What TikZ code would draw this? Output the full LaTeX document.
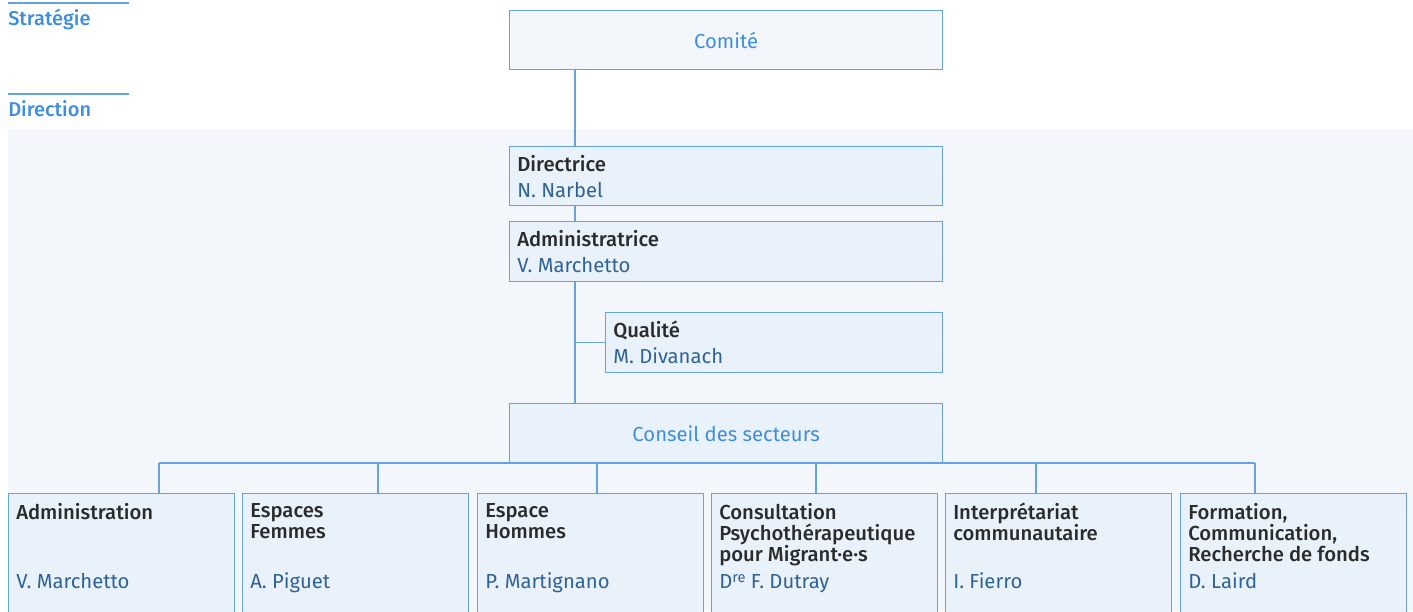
\documentclass[tikz,border=0pt]{standalone}
\usepackage{fontspec}
\setmainfont{Fira Sans}[BoldFont={* Medium}]
\definecolor{lineblue}{RGB}{100,162,232}
\definecolor{headblue}{RGB}{62,142,222}
\definecolor{nameblue}{RGB}{47,98,150}
\definecolor{titlegray}{RGB}{43,43,43}
\definecolor{panelfill}{RGB}{243,247,252}
\definecolor{boxfill}{RGB}{233,241,251}

\begin{document}
\begin{tikzpicture}[x=0.75pt,y=0.75pt,yscale=-1,xscale=1,
  orgbox/.style={draw=lineblue,line width=0.9pt,fill=boxfill,anchor=north west,inner sep=0pt},
  conn/.style={draw=lineblue,line width=0.9pt},
  roletext/.style={anchor=base west,inner sep=0pt,text=titlegray,font=\fontsize{15.2}{15.75}\selectfont\bfseries},
  sectortext/.style={roletext,anchor=north west,align=left},
  persontext/.style={anchor=base west,inner sep=0pt,text=nameblue,font=\fontsize{15.2}{15.75}\selectfont},
  lvltext/.style={anchor=base west,inner sep=0pt,text=headblue,font=\fontsize{15}{15}\selectfont\bfseries}]
\clip (0,0) rectangle (1413,611);

% Background panel
\fill[panelfill] (8,129) rectangle (1413,611);

% Level labels
\draw[conn] (8,3) -- (129,3);
\draw (8,25) node (strat) [lvltext] {Stratégie};
\draw[conn] (8,94) -- (129,94);
\draw (8,116) node (direc) [lvltext] {Direction};

% Shape: Rectangle
\node (comite) [orgbox,fill=panelfill,minimum width=324.75pt,minimum height=44.25pt] at (509,10) {};
\node (dir) [orgbox,minimum width=324.75pt,minimum height=44.25pt] at (509,146) {};
\node (admin) [orgbox,minimum width=324.75pt,minimum height=45pt] at (509,221) {};
\node (qual) [orgbox,minimum width=252.75pt,minimum height=45pt] at (605,312) {};
\node (conseil) [orgbox,minimum width=324.75pt,minimum height=45pt] at (509,403) {};
% Sectors
\node (sAdm) [orgbox,minimum width=169.5pt,minimum height=97.5pt] at (8,493) {};
\node (sFem) [orgbox,minimum width=169.5pt,minimum height=97.5pt] at (242,493) {};
\node (sHom) [orgbox,minimum width=169.5pt,minimum height=97.5pt] at (477,493) {};
\node (sCons) [orgbox,minimum width=169.5pt,minimum height=97.5pt] at (711,493) {};
\node (sInt) [orgbox,minimum width=169.5pt,minimum height=97.5pt] at (945,493) {};
\node (sForm) [orgbox,minimum width=169.5pt,minimum height=97.5pt] at (1180,493) {};

% Straight Lines
\coordinate (spine) at (575,0);
\draw[conn] (comite.south -| spine) -- (dir.north -| spine);
\draw[conn] (dir.south -| spine) -- (admin.north -| spine);
\draw[conn] (admin.south -| spine) -- (conseil.north -| spine);
\draw[conn] (spine |- qual.west) -- (qual.west);
\coordinate (d1) at (159,463);
\coordinate (d2) at (378,463);
\coordinate (d3) at (597,463);
\coordinate (d4) at (816,463);
\coordinate (d5) at (1036,463);
\coordinate (d6) at (1255,463);
\draw[conn] (d1) -- (d6);
\draw[conn] (d1) -- (d1 |- sAdm.north);
\draw[conn] (d2) -- (d2 |- sFem.north);
\draw[conn] (d3) -- (d3 |- sHom.north);
\draw[conn] (d4) -- (d4 |- sCons.north);
\draw[conn] (d5) -- (d5 |- sInt.north);
\draw[conn] (d6) -- (d6 |- sForm.north);

% Text Node
\node (comiteT) [text=headblue,font=\fontsize{15.2}{15.75}\selectfont] at (comite.center) {Comité};
\node (conseilT) [text=headblue,font=\fontsize{15.2}{15.75}\selectfont] at (conseil.center) {Conseil des secteurs};
\draw (517,171) node (dirT) [roletext] {Directrice};
\draw (517,197) node (dirN) [persontext] {N. Narbel};
\draw (517,246) node (adminT) [roletext] {Administratrice};
\draw (517,272) node (adminN) [persontext] {V. Marchetto};
\draw (613,337) node (qualT) [roletext] {Qualité};
\draw (613,363) node (qualN) [persontext] {M. Divanach};

% Text Node: sectors
\draw (16,503) node (sAdmT) [sectortext] {Administration};
\draw (16,588) node (sAdmN) [persontext] {V. Marchetto};
\draw (250,503) node (sFemT) [sectortext] {Espaces\\Femmes};
\draw (250,588) node (sFemN) [persontext] {A. Piguet};
\draw (485,503) node (sHomT) [sectortext] {Espace\\Hommes};
\draw (485,588) node (sHomN) [persontext] {P. Martignano};
\draw (719,503) node (sConsT) [sectortext] {Consultation\\Psychothérapeutique\\pour Migrant·e·s};
\draw (719,588) node (sConsN) [persontext] {D\raisebox{0.55ex}{\fontsize{11}{11}\selectfont re} F. Dutray};
\draw (953,503) node (sIntT) [sectortext] {Interprétariat\\communautaire};
\draw (953,588) node (sIntN) [persontext] {I. Fierro};
\draw (1188,503) node (sFormT) [sectortext] {Formation,\\Communication,\\Recherche de fonds};
\draw (1188,588) node (sFormN) [persontext] {D. Laird};

\end{tikzpicture}
\end{document}
